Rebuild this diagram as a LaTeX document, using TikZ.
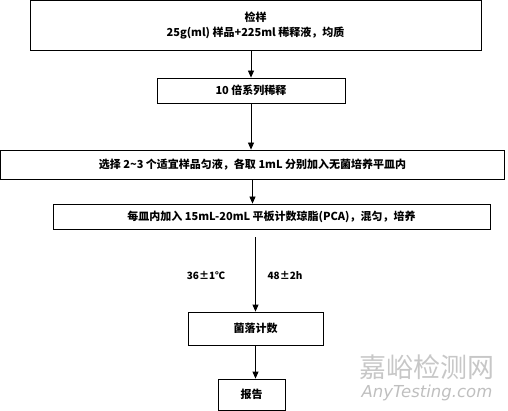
\documentclass[tikz,border=0pt]{standalone}
\usepackage{fontspec}
\setmainfont{Noto Sans CJK SC}
\newfontfamily\wmfont{DejaVu Sans}
\usetikzlibrary{arrows.meta, positioning}
\usetikzlibrary{calc}

\begin{document}
\begin{tikzpicture}[x=1pt, y=-1pt,
    stepbox/.style={draw, line width=0.8pt, inner sep=0pt, font=\bfseries\fontsize{11}{15}\selectfont, align=center},
    flow/.style={-{Triangle[length=7pt,width=6pt]}, line width=0.8pt},
    note/.style={font=\bfseries\fontsize{10}{12}\selectfont}
    ]
    \useasboundingbox (0,0) rectangle (508,411);

    % Process boxes at pixel coordinates
    \node[stepbox, minimum width=451pt, minimum height=49.5pt] (sample) at (255.5,25.25)
        {检样\\25g(ml) 样品+225ml 稀释液，均质};
    \node[stepbox, minimum width=188pt, minimum height=25pt] (dilute) at (251,90.5) {10 倍系列稀释};
    \node[stepbox, minimum width=504pt, minimum height=29pt] (select) at (252.5,164.5)
        {选择 2\textasciitilde 3 个适宜样品匀液，各取 1mL 分别加入无菌培养平皿内};
    \node[stepbox, minimum width=437pt, minimum height=25pt] (pca) at (271.5,216.5)
        {每皿内加入 15mL-20mL 平板计数琼脂(PCA)，混匀，培养};
    \node[stepbox, minimum width=135pt, minimum height=33pt] (count) at (255.5,328.5) {菌落计数};
    \node[stepbox, minimum width=67pt, minimum height=31.5pt] (report) at (251.5,394.75) {报告};

    % Incubation conditions
    \node[note] (temp) at (206,275) {36±1℃};
    \node[note] (time) at (285,275) {48±2h};

    % Connectors
    \draw[flow] (sample.south -| dilute.north) -- (dilute.north);
    \draw[flow] (dilute.south) -- (dilute.south |- select.north);
    \draw[flow] (select.south) -- (select.south |- pca.north);
    \coordinate (incub) at ($(pca.south -| count.north)+(0,8)$);
    \draw[flow] (incub) -- (count.north);
    \draw[flow] (count.south) -- (count.south |- report.north);

    % Watermark
    \node[text=black!22, font=\fontsize{27}{30}\selectfont] (wm) at (427,367) {嘉峪检测网};
    \node[text=black!25, font=\wmfont\itshape\fontsize{16.5}{18}\selectfont] (wmurl) at (427,393) {AnyTesting.com};
\end{tikzpicture}
\end{document}
